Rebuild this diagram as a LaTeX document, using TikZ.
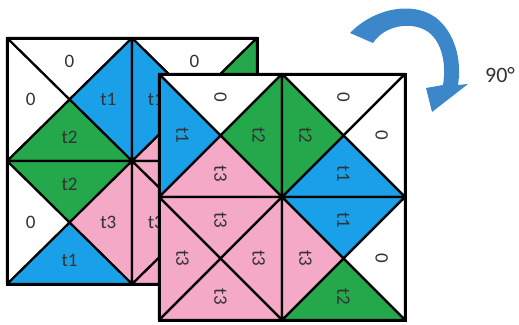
\documentclass[tikz,border=0pt]{standalone}
\usepackage{fontspec}
\setmainfont{Carlito}
\usepackage{tikz}
\usetikzlibrary{calc}
\definecolor{c0}{HTML}{FFFFFF}
\definecolor{ct1}{HTML}{1AA0E8}
\definecolor{ct2}{HTML}{25A84B}
\definecolor{ct3}{HTML}{F4A9C6}
\definecolor{txtc}{HTML}{333333}
\definecolor{arrc}{HTML}{3C87C9}
\tikzset{
  tri/.style={draw=black,line width=2.2pt,line join=round},
  rim/.style={draw=black,line width=3pt},
  lbl/.style={text=txtc,font=\fontsize{19}{19}\selectfont,inner sep=0pt}
}
\newcommand{\sqcell}[8]{%
  \coordinate (#1nw) at (#2,#3);
  \coordinate (#1ne) at ($(#1nw)+(\cellw,0)$);
  \coordinate (#1se) at ($(#1nw)+(\cellw,\cellh)$);
  \coordinate (#1sw) at ($(#1nw)+(0,\cellh)$);
  \coordinate (#1c) at ($(#1nw)!0.5!(#1se)$);
  \filldraw[tri,fill=c#5] (#1nw) -- (#1ne) -- (#1c) -- cycle;
  \filldraw[tri,fill=c#6] (#1ne) -- (#1se) -- (#1c) -- cycle;
  \filldraw[tri,fill=c#7] (#1se) -- (#1sw) -- (#1c) -- cycle;
  \filldraw[tri,fill=c#8] (#1sw) -- (#1nw) -- (#1c) -- cycle;
  \node[lbl,rotate=#4] (#1t) at ($(#1nw)!0.5!(#1ne)!0.38!(#1c)$) {#5};
  \node[lbl,rotate=#4] (#1r) at ($(#1ne)!0.5!(#1se)!0.38!(#1c)$) {#6};
  \node[lbl,rotate=#4] (#1b) at ($(#1se)!0.5!(#1sw)!0.38!(#1c)$) {#7};
  \node[lbl,rotate=#4] (#1l) at ($(#1sw)!0.5!(#1nw)!0.38!(#1c)$) {#8};
}

\begin{document}
\begin{tikzpicture}[x=1pt,y=-1pt]
\useasboundingbox (0,0) rectangle (519,324);
\def\cellw{125}\def\cellh{123}
\sqcell{btl}{7}{38}{0}{0}{t1}{t2}{0}
\sqcell{btr}{132}{38}{0}{0}{t2}{t3}{t1}
\sqcell{bbl}{7}{161}{0}{t2}{t3}{t1}{0}
\sqcell{bbr}{132}{161}{0}{t3}{t3}{t3}{t3}
\draw[rim] (btlnw) rectangle (bbrse);
\def\cellw{123}\def\cellh{123}
\sqcell{ftl}{159}{74}{-90}{0}{t2}{t3}{t1}
\sqcell{ftr}{282}{74}{-90}{0}{0}{t1}{t2}
\sqcell{fbl}{159}{197}{-90}{t3}{t3}{t3}{t3}
\sqcell{fbr}{282}{197}{-90}{t1}{0}{t2}{t3}
\draw[rim] (ftlnw) rectangle (fbrse);
\fill[arrc] (350,33) .. controls (372,10) and (410,0) .. (435,17)
  .. controls (455,32) and (462,60) .. (458,85) -- (468,84) -- (432,112) -- (426,88) -- (443,85)
  .. controls (447,60) and (440,38) .. (425,30) .. controls (410,22) and (385,25) .. (373,43) -- cycle;
\node[text=txtc,font=\fontsize{22}{22}\selectfont,inner sep=0pt] (ang) at (500,75) {90°};
\end{tikzpicture}
\end{document}
